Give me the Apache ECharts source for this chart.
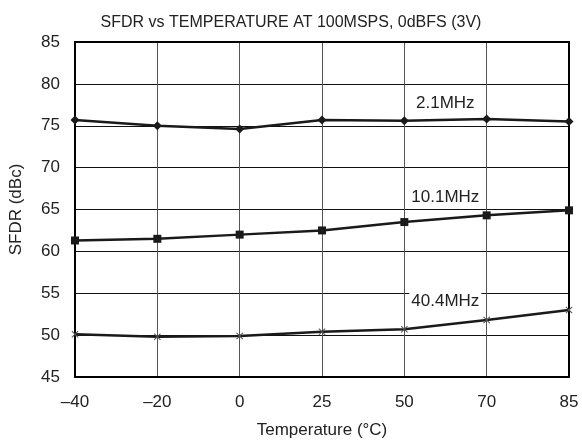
<!DOCTYPE html>
<html>
<head>
<meta charset="utf-8">
<script src="https://cdn.jsdelivr.net/npm/echarts@6/dist/echarts.min.js"></script>
<style>html,body{margin:0;padding:0;background:#fff;}#c{width:582px;height:445px;}</style>
</head>
<body>
<div id="c"></div>
<script>
var categories = ['\u201340', '\u201320', '0', '25', '50', '70', '85'];
var sfdr_2_1MHz = [75.7, 75.0, 74.6, 75.7, 75.6, 75.8, 75.5];
var sfdr_10_1MHz = [61.3, 61.5, 62.0, 62.5, 63.5, 64.3, 64.9];
var sfdr_40_4MHz = [50.1, 49.8, 49.9, 50.4, 50.7, 51.8, 53.0];
var yTicks = [45, 50, 55, 60, 65, 70, 75, 80, 85];
var seriesNames = ['2.1MHz', '10.1MHz', '40.4MHz'];
var labelAnchors = [['50', 77.7], ['50', 66.5], ['50', 54.0]];

var font = 'Liberation Sans, Arial, sans-serif';
var xSym = 'path://M0,1L1,0L5,4L9,0L10,1L6,5L10,9L9,10L5,6L1,10L0,9L4,5Z';

function lbl(i) {
  return {
    symbol: 'circle',
    symbolSize: 1,
    silent: true,
    itemStyle: {color: 'rgba(0,0,0,0)'},
    data: [{
      coord: labelAnchors[i],
      label: {
        show: true,
        formatter: seriesNames[i],
        position: 'inside',
        offset: [41, 0],
        color: '#222',
        fontFamily: font,
        fontSize: 17,
        backgroundColor: '#fff',
        padding: [1, 2, 0, 2]
      }
    }]
  };
}

var chart = echarts.init(document.getElementById('c'), null, {renderer: 'canvas'});
chart.setOption({
  backgroundColor: '#fff',
  animation: false,
  title: {
    text: 'SFDR vs TEMPERATURE AT 100MSPS, 0dBFS (3V)',
    left: 'center', top: 10,
    textStyle: {fontFamily: font, fontSize: 16, fontWeight: 'normal', color: '#222'}
  },
  grid: {left: 74, right: 13, top: 42, bottom: 68, show: true, borderColor: '#000', borderWidth: 2, z: 10},
  xAxis: {
    type: 'category',
    data: categories,
    boundaryGap: false,
    name: 'Temperature (\u00b0C)',
    nameLocation: 'middle',
    nameGap: 45,
    nameTextStyle: {fontFamily: font, fontSize: 17, color: '#222'},
    axisLine: {show: false},
    axisTick: {show: false},
    axisLabel: {fontFamily: font, fontSize: 17, color: '#222', margin: 17},
    splitLine: {show: true, lineStyle: {color: '#555', width: 1}}
  },
  yAxis: {
    type: 'value',
    min: yTicks[0], max: yTicks[yTicks.length - 1], interval: 5,
    name: 'SFDR (dBc)',
    nameLocation: 'middle',
    nameGap: 50,
    nameTextStyle: {fontFamily: font, fontSize: 17, color: '#222'},
    axisLine: {show: false},
    axisTick: {show: false},
    axisLabel: {fontFamily: font, fontSize: 17, color: '#222', margin: 15},
    splitLine: {show: true, lineStyle: {color: '#111', width: 1}}
  },
  series: [
    {name: seriesNames[0], type: 'line', data: sfdr_2_1MHz, symbol: 'diamond', symbolSize: 9,
     lineStyle: {color: '#1a1a1a', width: 2.5}, itemStyle: {color: '#1a1a1a'}, z: 20, markPoint: lbl(0)},
    {name: seriesNames[1], type: 'line', data: sfdr_10_1MHz, symbol: 'rect', symbolSize: 8,
     lineStyle: {color: '#1a1a1a', width: 2.5}, itemStyle: {color: '#1a1a1a'}, z: 20, markPoint: lbl(1)},
    {name: seriesNames[2], type: 'line', data: sfdr_40_4MHz, symbol: xSym, symbolSize: 7,
     lineStyle: {color: '#1a1a1a', width: 2.5}, itemStyle: {color: '#555'}, z: 20, markPoint: lbl(2)}
  ]
});
</script>
</body>
</html>
